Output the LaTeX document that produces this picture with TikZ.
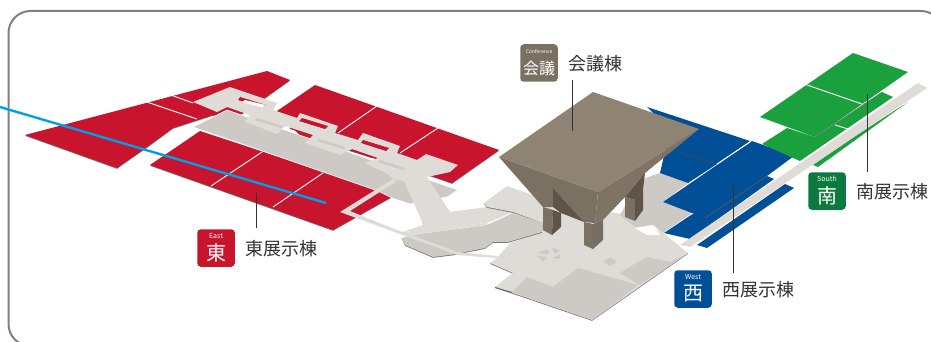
\documentclass[tikz,border=0pt]{standalone}
\usepackage{fontspec}
\setmainfont{Noto Sans CJK JP}
\usepackage{tikz}
\usetikzlibrary{positioning}
\definecolor{hallred}{HTML}{C8142D}
\definecolor{hallblue}{HTML}{004F97}
\definecolor{hallgreen}{HTML}{1AA03C}
\definecolor{badgegreen}{HTML}{0C7A3E}
\definecolor{linecyan}{HTML}{00A0E9}
\definecolor{walklight}{HTML}{DFDBD7}
\definecolor{walkdark}{HTML}{CDC9C5}
\definecolor{roofbrown}{HTML}{8F8373}
\definecolor{sidebrown}{HTML}{7B7163}
\definecolor{shadebrown}{HTML}{5E5548}
\definecolor{inktext}{HTML}{333333}
\tikzstyle{slab} = [preaction={fill=black!55, transform canvas={yshift=-0.8pt}}]
\tikzstyle{redfloor} = [fill=hallred, slab]
\tikzstyle{bluefloor} = [fill=hallblue]
\tikzstyle{greenfloor} = [fill=hallgreen]
\tikzstyle{walk} = [fill=walklight]
\tikzstyle{room} = [fill=walkdark]
\tikzstyle{gap} = [draw=white, line width=0.9pt]
\tikzstyle{seam} = [draw=black!65, line width=0.7pt]
\tikzstyle{leader} = [draw=inktext, line width=1pt]
\tikzstyle{badge} = [rectangle, rounded corners=3.5pt, minimum size=37.5pt, inner sep=0pt]
\tikzstyle{tag} = [text=white, inner sep=0pt, font=\fontsize{7}{7}\selectfont]
\tikzstyle{kanji} = [text=white, inner sep=0pt, font=\fontsize{20}{20}\selectfont]
\tikzstyle{hallname} = [text=inktext, inner sep=0pt, yshift=-1pt, font=\fontsize{18}{18}\selectfont]
\begin{document}
\begin{tikzpicture}[x=1pt, y=-1pt, node distance=10pt]
    \useasboundingbox (0,0) rectangle (931,342);
    \fill[white] (0,0) rectangle (931,342);
    \draw[draw=black!50, line width=2pt, rounded corners=22pt] (8.5,11) rectangle (943,346);

    % east halls
    \fill[redfloor] (25,135) -- (267,71) -- (290,80) -- (262,100) -- (240,115) -- (213,115) -- (173,128) -- (147,147) -- (117,168) -- cycle;
    \fill[redfloor] (315,85) -- (499,150) -- (452,183) -- (420,172) -- (300,135) -- (277,111) -- cycle;
    \fill[redfloor] (150,165) -- (200,131) -- (395,195) -- (333,230) -- cycle;
    \draw[gap] (143,100.7) -- (197,119);
    \draw[gap] (168,94) -- (193,103);
    \draw[gap] (377,106) -- (338,133);
    \draw[gap] (438,128) -- (400,153);
    \draw[gap] (262,152) -- (211,186);
    \draw[gap] (323,173) -- (273,207);

    % band and walkway over the east halls
    \fill[room, draw=white, line width=0.6pt] (193,127) -- (227,110) -- (458,190) -- (447,197) -- (410,204) -- (392,198) -- (378,191) -- cycle;
    \fill[hallred] (290,127) -- (313,134) -- (313,136) -- (290,129) -- cycle;
    \fill[hallred] (352,149) -- (372,156) -- (372,158) -- (352,151) -- cycle;
    \fill[walk] (193,102) -- (230,87) -- (277,103) -- (273,110) -- (297,118) -- (300,113) -- (338,126) -- (335,133) -- (358,140) -- (363,133) -- (400,146) -- (397,153) -- (417,160) -- (426,154) -- (458,165) -- (450,172) -- (427,177) -- (450,212) -- (487,207) -- (513,212) -- (487,223) -- (402,232) -- (423,225) -- (420,217) -- (404,181) -- (393,179) -- (388,174) -- (365,163) -- (378,158) -- (352,149) -- (340,155) -- (305,143) -- (313,135) -- (285,126) -- (277,134) -- (245,122) -- (250,115) -- (227,107) -- (217,112) -- cycle;
    \fill[hallred] (240,97) -- (266,105) -- (262,108) -- (238,100) -- cycle;
    \fill[white] (245,100) -- (266,105) -- (262,108) -- (242,102) -- cycle;
    \fill[hallred] (302,118) -- (328,126) -- (325,129) -- (299,121) -- cycle;
    \fill[hallred] (363,140) -- (389,148) -- (386,151) -- (361,143) -- cycle;
    \fill[room] (257,118) -- (283,126) -- (281,128) -- (255,120) -- cycle;
    \fill[room] (319,139) -- (345,147) -- (343,149) -- (317,141) -- cycle;
    \fill[room] (380,160) -- (405,168) -- (403,170) -- (378,162) -- cycle;

    % central floor
    \fill[walk, slab] (484,203) -- (507,186) -- (560,205) -- (630,215) -- (663,233) -- (688,253) -- (592,320) -- (495,287) -- (513,273) -- (490,263) -- (497,258) -- (510,243) -- (543,232) -- (543,223) -- (513,212) -- (487,207) -- cycle;
    \fill[room, slab] (412,235) -- (487,225) -- (513,213) -- (543,223) -- (542,232) -- (508,242) -- (493,242) -- (485,248) -- (465,252) -- (457,254) -- (433,257) -- (405,245) -- (402,238) -- cycle;
    \fill[white] (485,249) -- (508,243) -- (497,255) -- (493,252) -- cycle;
    \fill[walk] (402,232) -- (487,223) -- (487,225) -- (412,235) -- (457,252) -- (497,256) -- (497,258) -- (457,255) -- (340,212) -- (393,179) -- (397,181) -- (350,211) -- cycle;
    \fill[room] (512,292) -- (527,277) -- (553,287) -- (578,268) -- (638,285) -- (592,320) -- cycle;
    \fill[room] (620,273) -- (633,265) -- (647,257) -- (670,262) -- (687,254) -- (640,285) -- cycle;
    \fill[room] (603,262) -- (610,257) -- (617,262) -- (610,266) -- cycle;
    \fill[black!60] (495,287) -- (512,292) -- (512,293) -- (495,288) -- cycle;
    % cross mark
    \fill[room] (537,253) -- (548,249) -- (549,254) -- cycle;
    \fill[room] (552,248) -- (560,250) -- (555,254) -- cycle;
    \fill[room] (537,256) -- (547,257) -- (543,262) -- cycle;
    \fill[room] (552,258) -- (560,254) -- (560,259) -- cycle;

    % west halls
    \fill[room] (660,173) -- (688,183) -- (663,202) -- (692,213) -- (663,233) -- (653,225) -- (635,227) -- (620,215) -- (640,180) -- cycle;
    \fill[white] (635,228) -- (653,225) -- (660,235) -- (647,235) -- cycle;
    \fill[bluefloor] (647,107) -- (750,141) -- (717,164) -- (688,183) -- (660,173) -- (670,130) -- cycle;
    \fill[bluefloor] (664,233) -- (691,215) -- (774,179) -- (690,239) -- cycle;
    \fill[bluefloor] (752,141) -- (794,156) -- (767,176) -- (774,179) -- (705,218) -- (663,202) -- cycle;
    \fill[bluefloor] (697,245) -- (785,184) -- (794,188) -- (707,248) -- cycle;
    \draw[seam, draw=black!70] (678,152) -- (717,164);
    \draw[gap] (717,164) -- (750,142);
    \draw[seam] (705,218) -- (767,176);

    % south halls
    \fill[greenfloor] (762,144) -- (787,128) -- (815,137) -- (882,92) -- (893,97) -- (800,161) -- cycle;
    \fill[greenfloor] (813,165) -- (860,133) -- (908,102) -- (818,167) -- cycle;
    \fill[greenfloor] (853,53) -- (908,72) -- (815,137) -- (760,117) -- cycle;
    \draw[seam, draw=black!50] (815,137) -- (882,92);
    \draw[gap] (807,85) -- (862,104);
    \draw[gap] (835,125) -- (848,129);
    \fill[walk] (680,245) -- (918,83) -- (927,88) -- (690,247) -- cycle;

    % conference tower
    \fill[sidebrown] (499,157) -- (598,192) -- (595,223) -- (584,222) -- (553,188) -- (553,207) -- (543,207) -- cycle;
    \fill[roofbrown!88!black] (598,192) -- (699,129) -- (645,173) -- (625,197) -- (603,220) -- (595,223) -- cycle;
    \fill[shadebrown] (553,188) -- (584,222) -- (561,213) -- (553,207) -- cycle;
    \fill[sidebrown] (543,207) -- (553,210) -- (552,235) -- (543,230) -- cycle;
    \fill[shadebrown] (553,210) -- (561,213) -- (561,227) -- (552,235) -- cycle;
    \fill[shadebrown] (645,173) -- (625,197) -- (635,200) -- (643,190) -- cycle;
    \fill[sidebrown] (625,197) -- (635,200) -- (635,221) -- (625,217) -- cycle;
    \fill[shadebrown] (635,200) -- (643,190) -- (643,210) -- (635,221) -- cycle;
    \fill[sidebrown] (584,222) -- (593,224) -- (593,249) -- (584,245) -- cycle;
    \fill[shadebrown!85!white] (593,224) -- (603,220) -- (603,240) -- (593,249) -- cycle;
    \fill[roofbrown] (593,92) -- (699,129) -- (598,192) -- (499,157) -- cycle;

    % leader lines
    \coordinate (eastin) at (256,193);
    \coordinate (eastout) at (256,228);
    \coordinate (confin) at (572,131);
    \coordinate (confout) at (572,80);
    \coordinate (westin) at (733,184);
    \coordinate (westout) at (733,273);
    \coordinate (southin) at (867,94);
    \coordinate (southout) at (867,172);
    \draw [leader](eastin) -- (eastout);
    \draw [leader](confin) -- (confout);
    \draw [leader](westin) -- (westout);
    \draw [leader](southin) -- (southout);

    % blue line
    \coordinate (linestart) at (0,107);
    \coordinate (lineend) at (326,203);
    \draw [draw=linecyan, line width=2.4pt](linestart) -- (lineend);

    % badges and names
    \node (eastbadge) [badge, fill=hallred] at (216,248) {};
    \node (confbadge) [badge, fill=sidebrown] at (539,63) {};
    \node (westbadge) [badge, fill=hallblue] at (693,289) {};
    \node (southbadge) [badge, fill=badgegreen] at (827,191) {};
    \node (eastname) [hallname, right=of eastbadge] {東展示棟};
    \node (confname) [hallname, right=of confbadge] {会議棟};
    \node (westname) [hallname, right=of westbadge] {西展示棟};
    \node (southname) [hallname, right=of southbadge] {南展示棟};
    \node (easttag) [tag] at (216,236) {East};
    \node (conftag) [tag, font=\fontsize{5}{5}\selectfont] at (539,52) {Conference};
    \node (westtag) [tag] at (693,277) {West};
    \node (southtag) [tag] at (827,179) {South};
    \node (eastkanji) [kanji] at (216,253) {東};
    \node (confkanji) [kanji, font=\fontsize{16}{16}\selectfont] at (539,68) {会議};
    \node (westkanji) [kanji] at (693,294) {西};
    \node (southkanji) [kanji] at (827,196) {南};
\end{tikzpicture}
\end{document}
